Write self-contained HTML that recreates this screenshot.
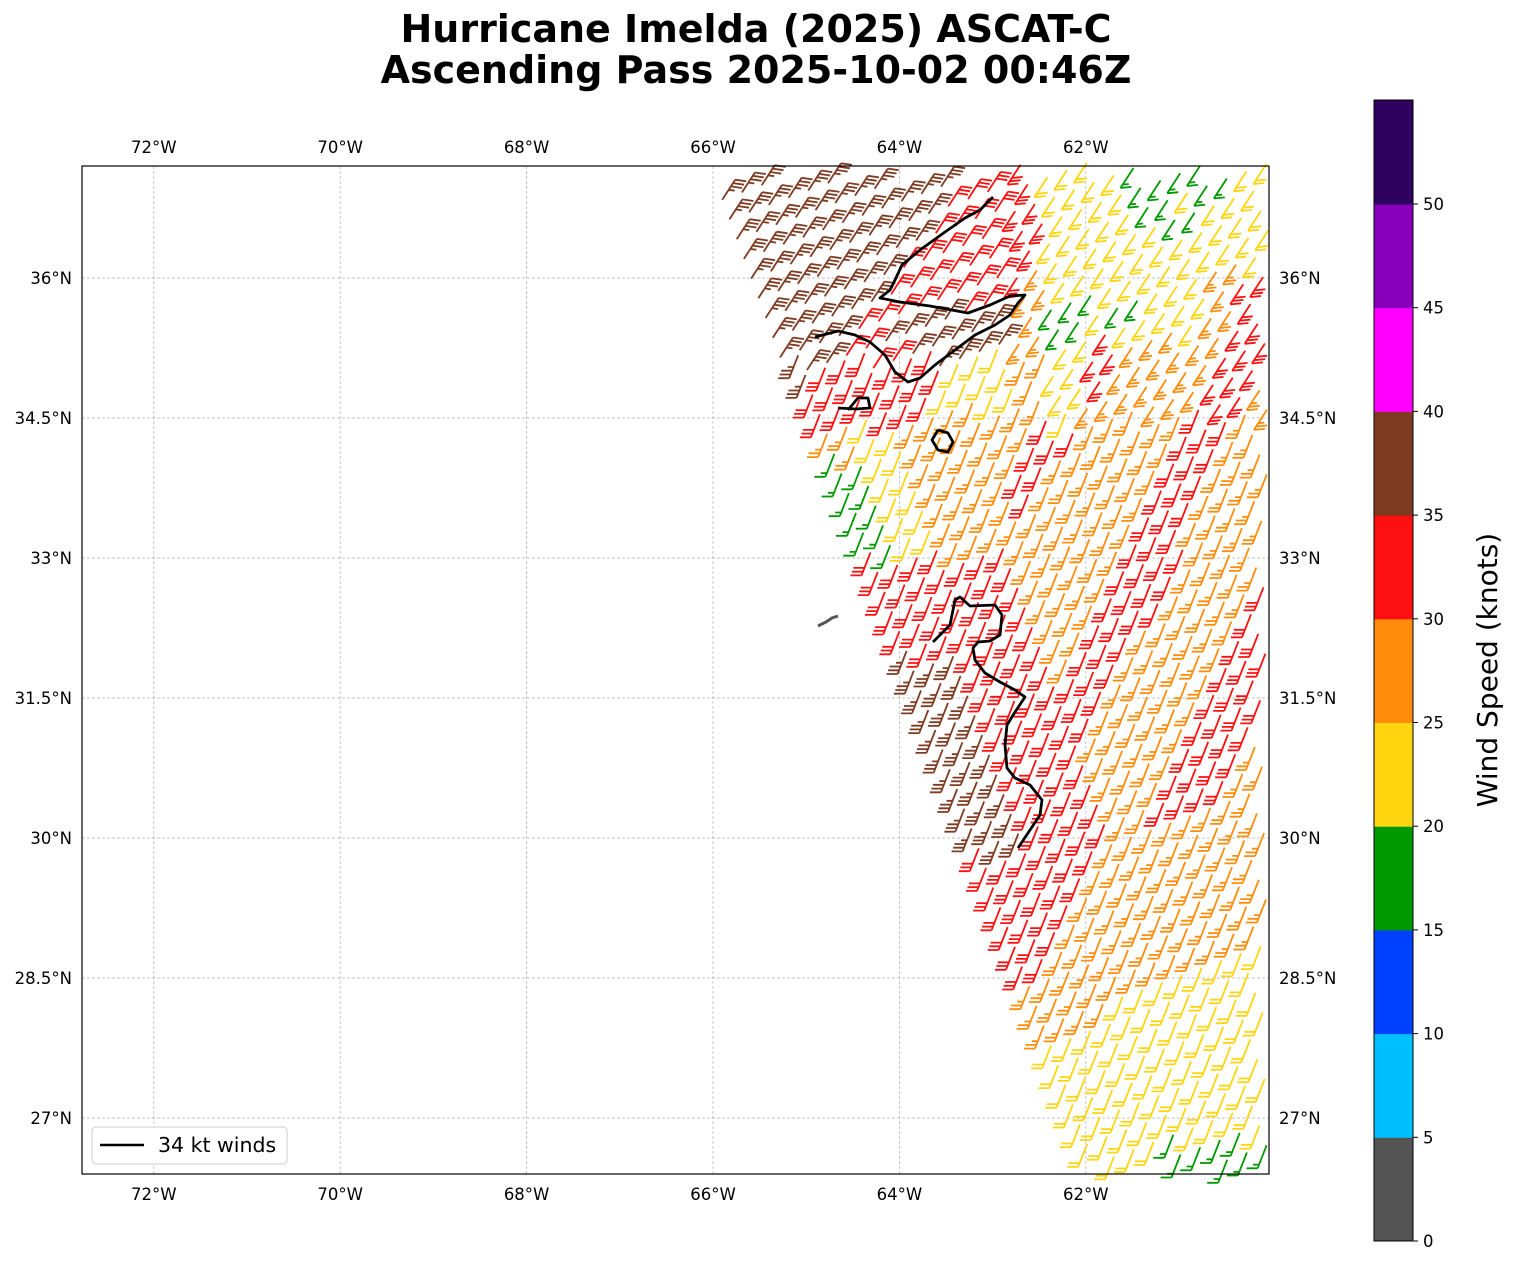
<!DOCTYPE html>
<html><head><meta charset="utf-8"><style>
body{margin:0;background:#fff;font-family:"DejaVu Sans","Liberation Sans",sans-serif;}
svg{display:block}
</style></head><body>
<svg id="s" width="1513" height="1264" xmlns="http://www.w3.org/2000/svg" font-family="DejaVu Sans, Liberation Sans, sans-serif">
<text x="756" y="42" text-anchor="middle" font-size="38" font-weight="bold">Hurricane Imelda (2025) ASCAT-C</text>
<text x="756" y="83" text-anchor="middle" font-size="38" font-weight="bold">Ascending Pass 2025-10-02 00:46Z</text>
<g id="grid" stroke="#b0b0b0" stroke-width="0.7" stroke-dasharray="3,2"></g>
<g id="barbs" stroke-width="1.8" fill="none" stroke-linecap="butt"></g>
<g fill="none" stroke="#000" stroke-width="2.8" stroke-linejoin="round">
<polyline points="993,197 980,210 965,218 945,232 920,250 902,265 895,280 890,290 880,298 900,302 930,306 968,313 990,305 1010,296 1025,295 1018,303 1010,315 995,325 975,335 955,350 935,365 920,378 908,382 895,372 885,355 870,342 855,335 838,331 815,337"/>
<polyline points="838,408 856,409 870,408 868,398 858,398 848,410"/>
<polyline points="938,430 948,433 953,442 948,452 938,450 932,440 938,430"/>
<polyline points="933,642 950,625 955,600 960,597 970,606 995,605 1002,615 1000,635 990,641 978,642 973,648 975,660 985,673 1000,682 1015,690 1025,697 1015,712 1007,725 1005,745 1007,768 1015,778 1030,785 1042,800 1040,815 1030,830 1018,848"/>
</g>
<path d="M818,626 L826,622 L832,618 L838,616" stroke="#555" stroke-width="3" fill="none"/>
<rect x="82" y="166" width="1187" height="1008" fill="none" stroke="#000" stroke-width="1.2"/>
<g id="labels" font-size="16.5" fill="#000"></g>
<rect x="92" y="1127" width="195" height="37" rx="4" fill="#fff" stroke="#ccc"/>
<line x1="100" y1="1145" x2="144" y2="1145" stroke="#000" stroke-width="2.6"/>
<text x="158" y="1152" font-size="20.5">34 kt winds</text>
<g id="cbar"></g>
<text transform="translate(1497,670) rotate(-90)" text-anchor="middle" font-size="28">Wind Speed (knots)</text>
</svg>
<script>
const NS="http://www.w3.org/2000/svg";
function el(p,t,a,txt){const e=document.createElementNS(NS,t);for(const k in a)e.setAttribute(k,a[k]);if(txt!==undefined)e.textContent=txt;p.appendChild(e);return e;}
const X=lon=>713+(66-lon)*93.2, Y=lat=>278+(36-lat)*93.33;
const g=document.getElementById('grid'),L=document.getElementById('labels');
[72,70,68,66,64,62].forEach(l=>{const x=X(l);el(g,'line',{x1:x,y1:166,x2:x,y2:1174});
el(L,'text',{x:x,y:153,'text-anchor':'middle'},l+'°W');el(L,'text',{x:x,y:1200,'text-anchor':'middle'},l+'°W');});
['36','34.5','33','31.5','30','28.5','27'].forEach(l=>{const y=Y(+l);el(g,'line',{x1:82,y1:y,x2:1269,y2:y});
el(L,'text',{x:72,y:y+6,'text-anchor':'end'},l+'°N');el(L,'text',{x:1279,y:y+6},l+'°N');});
const cols=['#555555','#00bfff','#0040ff','#009900','#ffd510','#ff8c0a','#ff1010','#7f3b22','#ff00ff','#8800bb','#2e0060'];
const cb=document.getElementById('cbar');const h=103.7;
cols.forEach((c,i)=>el(cb,'rect',{x:1374,y:1241-(i+1)*h,width:39,height:h+0.5,fill:c}));
el(cb,'rect',{x:1374,y:100,width:39,height:1141,fill:'none',stroke:'#000','stroke-width':1});
for(let i=0;i<=10;i++){const y=1241-i*h;el(cb,'line',{x1:1413,y1:y,x2:1418,y2:y,stroke:'#000'});
el(cb,'text',{x:1423,y:y+6,'font-size':16.5},String(i*5));}
const C={br:['#7f3b22',3.5],r:['#ff1010',3],o:['#ff8c0a',2.5],y:['#ffd510',2],gr:['#009900',1.5]};
const xe=y=>715+(y-166)*0.367;
const stripe=(x,y,w)=>(((x*0.9+y*0.45)%140)<w)?'r':'o';
function col(x,y){const d=x-xe(y);
 if(y<430){
  if((x-1150)**2+(y-190)**2<900||(x-1205)**2+(y-172)**2<600||(x-1065)**2+(y-320)**2<600||(x-1050)**2+(y-340)**2<300||(x-1120)**2+(y-315)**2<300||(x-1175)**2+(y-225)**2<200)return'gr';
  const bl=260-(y-166)*1.1;
  if(d<bl)return'br';
  if(((x-950)/70)**2+((y-330)/28)**2<1)return'br';
  if(y<340&&x>1040){ if(x>1200&&y>270)return (x>1230?'r':'o'); return'y';}
  if(y>=340&&x>1080)return stripe(x,y,40);
  if(d<bl+130)return'r';
  if(y>360&&y<410&&x>940&&x<1010)return'y';
  return (x<1040)?'o':'y';}
 if(y<560){
  if(d<35)return (y>460?'gr':'o');if(d<80)return'y';if(d<170)return'o';
  return stripe(x,y,42);}
 if(y>1140&&x>1150)return'gr';
 if(d<50&&y>660&&y<860)return'br';
 if(y>820){ if(d<155-(y-820)*0.85)return'r'; if(y>1040-(x-1050)*0.5)return'y'; return'o';}
 if(d<140)return'r';
 return stripe(x,y,55);}
const B=document.getElementById('barbs');
const u=[0.344,0.939],v=[0.939,-0.344],sp=21;let out='';
for(let i=-10;i<70;i++)for(let j=-5;j<40;j++){
 const x=715+(i*u[0]+j*v[0])*sp+6,y=166+(i*u[1]+j*v[1])*sp+4;
 if(x<xe(y)||x>1262||y<172||y>1172)continue;
 const k=C[col(x,y)];let n=k[1];
 let type = y<360 ? (x<1005?'F':'L') : (y<420 && x>1040 ? 'L':'J');
 let bx,by,tx,ty;
 if(type==='J'){bx=x-4;by=y+11;tx=x+5;ty=y-12;}else{bx=x-6;by=y+10;tx=x+7;ty=y-10;}
 const len=Math.hypot(tx-bx,ty-by), sx=(tx-bx)/len, sy=(ty-by)/len;
 let d=`M${bx.toFixed(1)},${by.toFixed(1)}L${tx.toFixed(1)},${ty.toFixed(1)}`;
 let p=0;
 const draw=(l)=>{let ox,oy,dx,dy;
   if(type==='F'){ox=tx-sx*p*4;oy=ty-sy*p*4;dx=l;dy=l*0.15;}
   else if(type==='L'){ox=bx+sx*p*4;oy=by+sy*p*4;dx=l;dy=-l*0.1;}
   else {ox=bx+sx*p*4;oy=by+sy*p*4;dx=-l;dy=0;}
   d+=`M${ox.toFixed(1)},${oy.toFixed(1)}l${dx.toFixed(1)},${dy.toFixed(1)}`;};
 while(n>=1){draw(11);n-=1;p++;}
 if(n>0)draw(6);
 out+=`<path d="${d}" stroke="${k[0]}"/>`;}
B.innerHTML=out;
</script>
</body></html>
